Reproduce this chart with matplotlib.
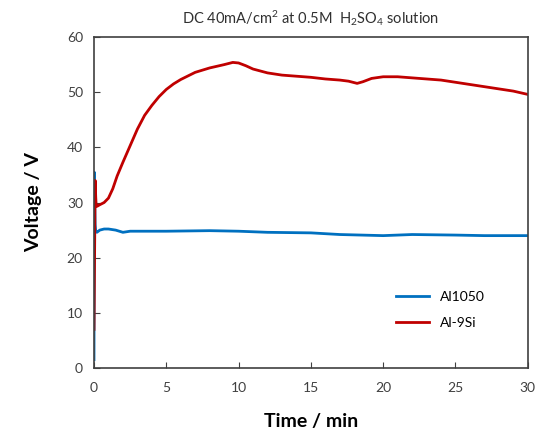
import matplotlib.pyplot as plt

plt.rcParams['font.family'] = ['Lato', 'DejaVu Sans']
plt.rcParams['mathtext.default'] = 'regular'

# Al1050 (blue)
t_al1050 = [0.0, 0.02, 0.05, 0.08, 0.12, 0.2, 0.4, 0.7, 1.0, 1.5, 2.0, 2.5, 3.0, 5.0,
            8.0, 10.0, 12.0, 15.0, 17.0, 20.0, 22.0, 25.0, 27.0, 30.0]
v_al1050 = [1.5, 35.5, 30.0, 26.0, 24.8, 24.6, 25.0, 25.2, 25.2, 25.0, 24.6, 24.8, 24.8, 24.8,
            24.9, 24.8, 24.6, 24.5, 24.2, 24.0, 24.2, 24.1, 24.0, 24.0]

# Al-9Si (red)
t_al9si = [0.0, 0.04, 0.08, 0.12, 0.15, 0.2, 0.4, 0.7, 1.0, 1.3, 1.6, 2.0, 2.5, 3.0, 3.5, 4.0,
           4.5, 5.0, 5.5, 6.0, 7.0, 8.0, 9.0, 9.6, 10.0, 10.5, 11.0, 12.0, 13.0, 14.0,
           15.0, 16.0, 17.0, 17.6, 18.2, 18.6, 19.2, 20.0, 21.0, 22.0, 23.0, 24.0,
           25.0, 26.0, 27.0, 28.0, 29.0, 30.0]
v_al9si = [7.0, 20.0, 34.0, 31.0, 29.5, 29.3, 29.6, 30.0, 30.8, 32.5, 34.8, 37.3, 40.3, 43.3, 45.8, 47.6,
           49.2, 50.5, 51.5, 52.3, 53.6, 54.4, 55.0, 55.4, 55.3, 54.8, 54.2, 53.5, 53.1, 52.9,
           52.7, 52.4, 52.2, 52.0, 51.6, 51.9, 52.5, 52.8, 52.8, 52.6, 52.4, 52.2,
           51.8, 51.4, 51.0, 50.6, 50.2, 49.6]

fig = plt.figure(figsize=(5.38, 4.41), dpi=100)
ax = fig.add_axes([0.1747, 0.1655, 0.8063, 0.7505])

ax.plot(t_al1050, v_al1050, color='#0070C0', lw=2, label='Al1050')
ax.plot(t_al9si, v_al9si, color='#C00000', lw=2, label='Al-9Si')

ax.set_xlim(0, 30)
ax.set_ylim(0, 60)
ax.set_xticks(range(0, 31, 5))
ax.set_yticks(range(0, 61, 10))
ax.tick_params(direction='in', length=4, labelsize=10, colors='#404040', pad=8)
ax.tick_params(axis='x', pad=10)
for s in ax.spines.values():
    s.set_color('#404040')
    s.set_linewidth(1.2)

ax.set_xlabel('Time / min', fontsize=14, fontweight='bold', labelpad=14)
ax.set_ylabel('Voltage / V', fontsize=14, fontweight='bold', labelpad=18)
ax.set_title('DC 40mA/cm$^2$ at 0.5M  H$_2$SO$_4$ solution', fontsize=10.5, color='#303030', pad=10)

ax.legend(loc='lower right', bbox_to_anchor=(0.93, 0.08), frameon=False, fontsize=10,
          handlelength=2.4, labelspacing=1.0)

fig.savefig('out.png', dpi=100)
